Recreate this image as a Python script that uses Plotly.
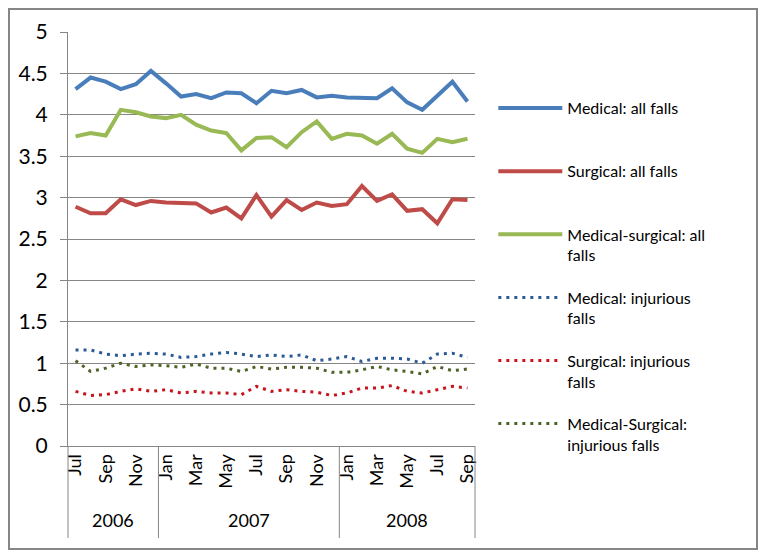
import plotly.graph_objects as go

months = ["Jul","Aug","Sep","Oct","Nov","Dec",
          "Jan","Feb","Mar","Apr","May","Jun","Jul","Aug","Sep","Oct","Nov","Dec",
          "Jan","Feb","Mar","Apr","May","Jun","Jul","Aug","Sep"]
years = ["2006"]*6 + ["2007"]*12 + ["2008"]*9

medical_all = [4.31,4.45,4.40,4.31,4.37,4.53,4.38,4.22,4.25,4.20,4.27,4.26,4.14,
               4.29,4.26,4.30,4.21,4.23,4.21,4.21,4.20,4.32,4.15,4.06,4.23,4.40,4.16]
surgical_all = [2.89,2.81,2.81,2.98,2.91,2.96,2.94,2.94,2.93,2.82,2.88,2.75,3.03,
                2.77,2.97,2.85,2.94,2.90,2.92,3.14,2.96,3.04,2.84,2.86,2.69,2.98,2.97]
medsurg_all = [3.74,3.78,3.75,4.06,4.03,3.98,3.96,4.00,3.88,3.81,3.78,3.57,3.72,
               3.73,3.61,3.79,3.92,3.71,3.77,3.75,3.65,3.77,3.59,3.54,3.71,3.67,3.71]
medical_inj = [1.16,1.16,1.11,1.09,1.11,1.12,1.11,1.07,1.08,1.11,1.13,1.11,1.08,
               1.10,1.08,1.10,1.03,1.05,1.08,1.02,1.06,1.06,1.05,1.00,1.11,1.12,1.07]
surgical_inj = [0.66,0.61,0.62,0.66,0.69,0.66,0.68,0.64,0.66,0.64,0.64,0.62,0.72,
                0.66,0.68,0.66,0.65,0.61,0.64,0.70,0.70,0.73,0.66,0.64,0.68,0.72,0.70]
medsurg_inj = [1.03,0.90,0.94,1.00,0.96,0.98,0.97,0.95,0.99,0.94,0.94,0.90,0.96,
               0.93,0.95,0.95,0.94,0.89,0.89,0.92,0.96,0.92,0.90,0.87,0.96,0.91,0.93]

series = [
    ("Medical: all falls<br> ", medical_all, "#4A7EBB", "solid", 4),
    ("Surgical: all falls<br> ", surgical_all, "#BE4B48", "solid", 4),
    ("Medical-surgical: all<br>falls", medsurg_all, "#98B954", "solid", 4),
    ("Medical: injurious<br>falls", medical_inj, "#2C5A96", "3px,5px", 3),
    ("Surgical: injurious<br>falls", surgical_inj, "#C8141E", "3px,5px", 3),
    ("Medical-Surgical:<br>injurious falls", medsurg_inj, "#4F6228", "3px,5px", 3),
]

FONT = "Lato"
n = len(months)
x = list(range(n))

W, H = 758, 550
ML, MT, PW, PH = 60, 24, 407, 414
MR = W - ML - PW
MB = H - MT - PH

fig = go.Figure()
for i, (name, vals, col, dash, w) in enumerate(series):
    fig.add_trace(go.Scatter(
        x=x, y=vals, name=name, mode="lines", legendgroup=f"g{i}",
        line=dict(color=col, width=w, dash=dash),
    ))

tickvals = x[::2]
ticktext = months[::2]

fig.update_layout(
    width=W, height=H,
    margin=dict(l=ML, r=MR, t=MT, b=MB, autoexpand=False),
    paper_bgcolor="white", plot_bgcolor="white",
    font=dict(family=FONT, size=16, color="#000000"),
    showlegend=True,
    legend=dict(x=1.045, y=0.857, xanchor="left", yanchor="top",
                valign="top", tracegroupgap=18.5, itemwidth=64,
                font=dict(family=FONT, size=16, color="#000000"),
                bgcolor="rgba(0,0,0,0)"),
    xaxis=dict(range=[-0.5, n - 0.5], tickmode="array", tickvals=tickvals,
               ticktext=ticktext, tickangle=-90, showgrid=False, zeroline=False,
               showline=True, linecolor="#868686", linewidth=1, ticks="",
               tickfont=dict(family=FONT, size=18)),
    yaxis=dict(range=[0, 5], dtick=0.5, tickmode="linear", showgrid=True,
               gridcolor="#868686", gridwidth=1, zeroline=False,
               showline=True, linecolor="#868686", linewidth=1,
               ticks="outside", ticklen=7, tickcolor="#868686",
               ticklabelstandoff=8,
               tickfont=dict(family=FONT, size=21)),
)

# year group labels and separators derived from the data
groups = []
for i, yv in enumerate(years):
    if not groups or groups[-1][0] != yv:
        groups.append([yv, i, i])
    else:
        groups[-1][2] = i

sep_bottom = -92 / PH
label_y = -74 / PH
for yv, s, e in groups:
    fig.add_annotation(x=(s + e + 1) / 2 / n, y=label_y, xref="paper", yref="paper",
                       text=yv, showarrow=False, font=dict(family=FONT, size=18),
                       xanchor="center", yanchor="middle")
bounds = [g[1] for g in groups] + [n]
for b in bounds:
    fig.add_shape(type="line", xref="paper", yref="paper", x0=b / n, x1=b / n,
                  y0=0, y1=sep_bottom, line=dict(color="#868686", width=1))

# outer chart border
fig.add_shape(type="rect", xref="paper", yref="paper",
              x0=(1 - ML) / PW, x1=(749 - ML) / PW,
              y0=(MT + PH - 1) / PH, y1=(MT + PH - 541) / PH,
              line=dict(color="#868686", width=2), layer="below")

fig.write_html("out.html")
